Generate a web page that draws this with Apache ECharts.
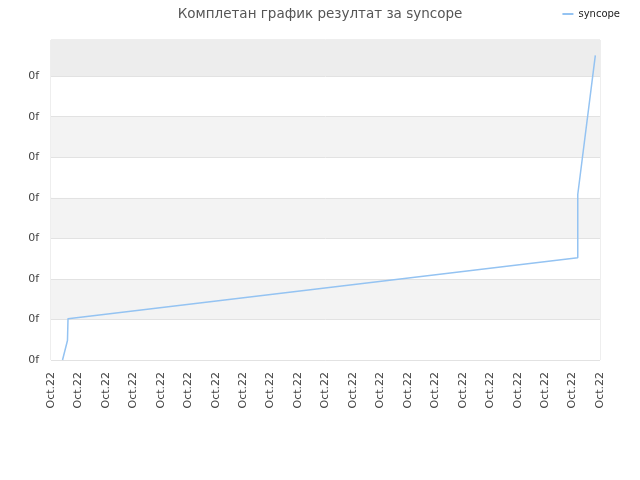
<!DOCTYPE html>
<html>
<head>
<meta charset="utf-8">
<script src="https://cdn.jsdelivr.net/npm/echarts@6/dist/echarts.min.js"></script>
<style>
  html, body { margin: 0; padding: 0; background: #fff; }
  #chart { width: 640px; height: 480px; }
</style>
</head>
<body>
<div id="chart"></div>
<script>
// подаци
var seriesName = 'syncope';
var titleText = 'Комплетан график резултат за syncope';
var xTickLabel = 'Oct.22';
var yTickLabel = '0f';
var xMax = 20;
var yMax = 7.89;
var xValues = [0.42, 0.60, 0.62, 19.19, 19.19, 19.83];
var yValues = [0, 0.48, 1.02, 2.52, 4.08, 7.51];

function initChart() {
    var chart = echarts.init(document.getElementById('chart'));

    var points = xValues.map(function (x, i) { return [x, yValues[i]]; });

    var option = {
        animation: false,
        backgroundColor: '#fff',
        title: {
            text: titleText,
            left: 'center',
            top: 2,
            textStyle: { color: '#555', fontSize: 13.5, fontWeight: 'normal', fontFamily: 'DejaVu Sans' }
        },
        legend: {
            right: 15,
            top: 4,
            itemWidth: 11,
            itemHeight: 2,
            itemGap: 6,
            icon: 'rect',
            textStyle: { color: '#222', fontSize: 10, fontFamily: 'DejaVu Sans' },
            data: [seriesName]
        },
        grid: {
            left: 51,
            right: 40,
            top: 40,
            bottom: 120,
            show: true,
            borderColor: '#ddd',
            borderWidth: 1
        },
        xAxis: {
            type: 'value',
            min: 0,
            max: xMax,
            interval: 1,
            axisLine: { show: false },
            axisTick: { show: false },
            splitLine: { show: false },
            axisLabel: {
                rotate: 90,
                margin: 12,
                color: '#444',
                fontSize: 11,
                fontFamily: 'DejaVu Sans',
                showMaxLabel: true,
                formatter: function () { return xTickLabel; }
            }
        },
        yAxis: {
            type: 'value',
            min: 0,
            max: yMax,
            interval: 1,
            axisLine: { show: false },
            axisTick: { show: false },
            splitLine: { show: true, lineStyle: { color: '#e2e2e2' } },
            splitArea: { show: true, areaStyle: { color: ['#ffffff', '#f3f3f3'] } },
            axisLabel: {
                margin: 12,
                color: '#444',
                fontSize: 11,
                fontFamily: 'DejaVu Sans',
                showMaxLabel: false,
                formatter: function () { return yTickLabel; }
            }
        },
        series: [{
            name: seriesName,
            type: 'line',
            data: points,
            showSymbol: false,
            symbol: 'none',
            lineStyle: { color: '#94c3f2', width: 1.5 },
            itemStyle: { color: '#94c3f2' },
            markArea: {
                silent: true,
                itemStyle: { color: '#ededed' },
                data: [[{ yAxis: 7 }, { yAxis: yMax }]]
            }
        }]
    };

    chart.setOption(option);
}

document.addEventListener('DOMContentLoaded', initChart);
</script>
</body>
</html>
